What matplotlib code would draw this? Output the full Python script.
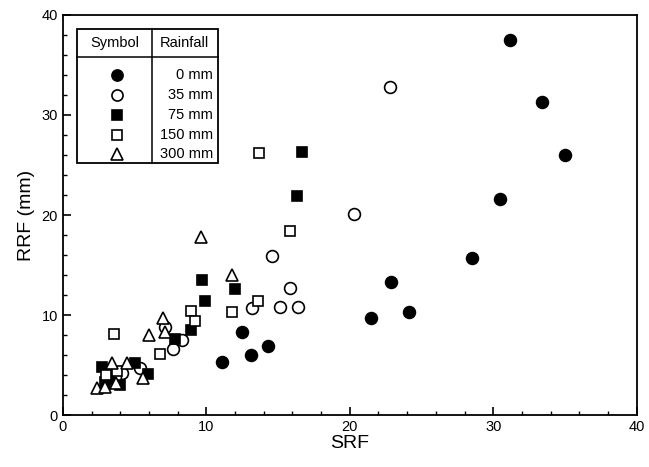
import matplotlib
matplotlib.use("Agg")
import matplotlib.pyplot as plt
from matplotlib.ticker import MultipleLocator
from matplotlib.patches import Rectangle
from matplotlib.lines import Line2D

plt.rcParams['font.family'] = ['Liberation Sans', 'DejaVu Sans']

# Data: (SRF, RRF) per rainfall group
srf_0 = [31.2, 33.4, 35.0, 30.5, 28.5, 22.9, 24.1, 21.5, 12.5, 14.3, 13.1, 11.1]
rrf_0 = [37.5, 31.3, 26.0, 21.6, 15.7, 13.3, 10.3, 9.7, 8.3, 6.9, 6.0, 5.3]

srf_35 = [22.8, 20.3, 14.6, 15.8, 15.1, 16.4, 13.2, 8.3, 7.7, 7.1, 5.4, 4.1, 3.6, 3.3]
rrf_35 = [32.8, 20.1, 15.9, 12.7, 10.8, 10.8, 10.7, 7.5, 6.6, 8.8, 4.7, 4.2, 3.8, 3.3]

srf_75 = [16.7, 16.3, 9.7, 12.0, 9.9, 8.9, 7.8, 5.9, 5.0, 2.7, 3.2, 4.0, 2.9]
rrf_75 = [26.3, 21.9, 13.5, 12.6, 11.4, 8.5, 7.6, 4.1, 5.2, 4.8, 3.6, 3.0, 3.3]

srf_150 = [13.7, 15.8, 13.6, 11.8, 8.9, 9.2, 6.8, 3.55, 3.0, 3.8]
rrf_150 = [26.2, 18.4, 11.4, 10.3, 10.4, 9.4, 6.1, 8.1, 4.0, 4.4]

srf_300 = [9.6, 11.8, 7.0, 7.1, 6.0, 4.5, 5.6, 3.4, 2.4, 2.9, 3.7]
rrf_300 = [17.8, 14.0, 9.7, 8.3, 8.0, 5.2, 3.7, 5.2, 2.7, 2.8, 3.2]

rain_labels = ["0 mm", "35 mm", "75 mm", "150 mm", "300 mm"]

styles = [
    dict(marker='o', ms=8.5, mfc='black', mec='black', mew=1.2),
    dict(marker='o', ms=8.5, mfc='white', mec='black', mew=1.2),
    dict(marker='s', ms=7.5, mfc='black', mec='black', mew=1.2),
    dict(marker='s', ms=7.5, mfc='white', mec='black', mew=1.2),
    dict(marker='^', ms=8.5, mfc='white', mec='black', mew=1.2),
]
series = [(srf_0, rrf_0), (srf_35, rrf_35), (srf_75, rrf_75),
          (srf_150, rrf_150), (srf_300, rrf_300)]

fig = plt.figure(figsize=(6.49, 4.67), dpi=100)
ax = fig.add_axes([0.097, 0.111, 0.884, 0.857])

for (xs, ys), st in zip(series, styles):
    ax.plot(xs, ys, linestyle='none', **st, zorder=3)

ax.set_xlim(0, 40)
ax.set_ylim(0, 40)
ax.xaxis.set_major_locator(MultipleLocator(10))
ax.xaxis.set_minor_locator(MultipleLocator(2))
ax.yaxis.set_major_locator(MultipleLocator(10))
ax.yaxis.set_minor_locator(MultipleLocator(2))
ax.tick_params(which='both', direction='in', top=False, right=False, labelsize=10.5)
ax.tick_params(which='major', length=6, width=1.2)
ax.tick_params(which='minor', length=3, width=1.0)
for s in ax.spines.values():
    s.set_linewidth(1.3)

ax.set_xlabel("SRF", fontsize=14, labelpad=1)
ax.set_ylabel("RRF (mm)", fontsize=14, labelpad=5)

# Table-style legend
T = ax.transAxes
x0, x1, xd = 0.0244, 0.270, 0.155
y0, y1, yh = 0.630, 0.965, 0.895
ax.add_patch(Rectangle((x0, y0), x1 - x0, y1 - y0, transform=T, fill=False,
                       lw=1.3, ec='black', zorder=5))
ax.add_line(Line2D([xd, xd], [y0, y1], transform=T, color='black', lw=1.1, zorder=5))
ax.add_line(Line2D([x0, x1], [yh, yh], transform=T, color='black', lw=1.1, zorder=5))
ax.text((x0 + xd) / 2, (yh + y1) / 2, "Symbol", transform=T, ha='center', va='center',
        fontsize=10.5, zorder=6)
ax.text((xd + x1) / 2, (yh + y1) / 2, "Rainfall", transform=T, ha='center', va='center',
        fontsize=10.5, zorder=6)
row_y = [0.850, 0.800, 0.750, 0.700, 0.6525]
for lab, ry, st in zip(rain_labels, row_y, styles):
    st2 = dict(st)
    st2['ms'] = st['ms'] - 0.5
    ax.plot([(x0 + xd) / 2 + 0.005], [ry], transform=T, linestyle='none', zorder=6, **st2)
    ax.text(x1 - 0.008, ry, lab, transform=T, ha='right', va='center', fontsize=10.5, zorder=6)

fig.savefig("out.png", dpi=100)
